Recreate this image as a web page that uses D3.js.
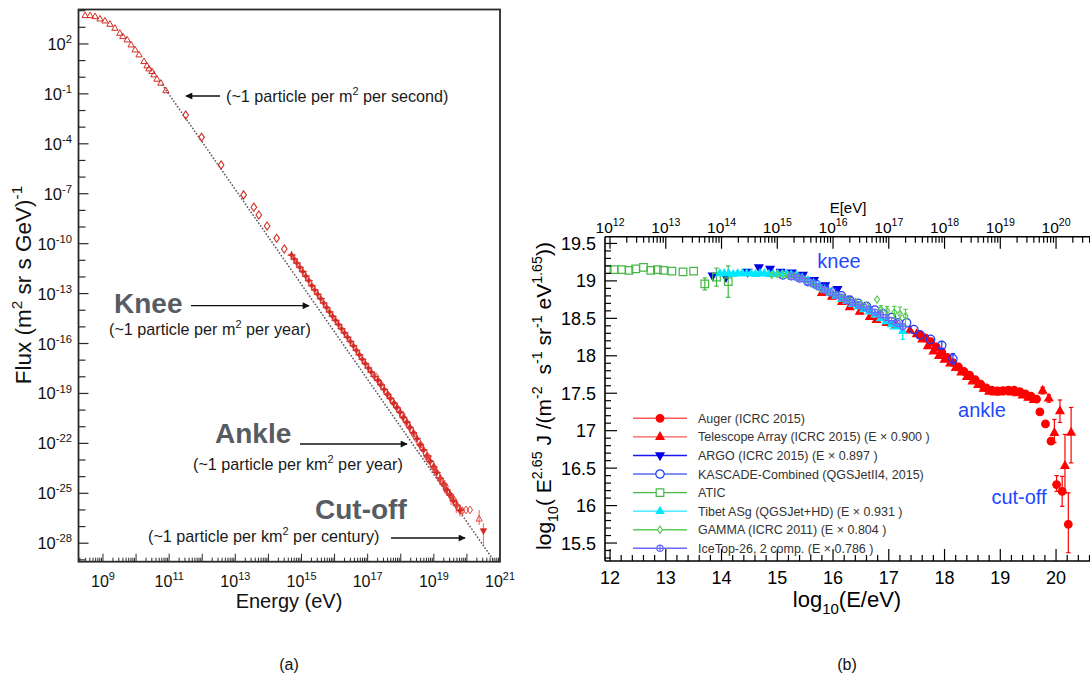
<!DOCTYPE html>
<html><head><meta charset="utf-8">
<script src="https://cdn.jsdelivr.net/npm/d3@7"></script>
<style>
body{margin:0;background:#fff}
svg{display:block;font-family:"Liberation Sans",Arial,Helvetica,sans-serif}
text{white-space:pre}
</style>
</head><body>
<svg id="c" width="1090" height="682"></svg>
<script>
// ================= data: panel (a), all-particle flux, [log10 E/eV, log10 flux] =================
const fluxLowTriangles = [[8.46,3.70],[8.61,3.70],[8.76,3.64],[8.91,3.50],[9.06,3.38],[9.21,3.18],[9.36,2.94],[9.51,2.64],[9.60,2.44],[9.73,2.24],[9.85,1.94],[9.97,1.64],[10.09,1.34],[10.24,0.94],[10.33,0.68],[10.39,0.50],[10.48,0.34],[10.54,0.14],[10.63,-0.12],[10.75,-0.36],[10.90,-0.81]];
const fluxDiamonds = [[11.50,-2.27],[11.98,-3.61],[12.57,-5.27],[13.25,-7.07],[13.56,-7.81],[13.71,-8.28],[13.96,-8.94],[14.25,-9.68],[14.48,-10.32]];
const fluxStars = [[14.70,-10.68],[14.78,-10.92],[14.86,-11.16],[14.95,-11.42],[15.04,-11.68],[15.13,-11.95],[15.22,-12.22],[15.31,-12.52],[15.40,-12.78],[15.49,-13.04],[15.58,-13.30],[15.67,-13.57],[15.76,-13.84],[15.85,-14.10],[15.94,-14.36],[16.03,-14.61],[16.12,-14.86],[16.21,-15.11],[16.30,-15.36],[16.39,-15.62],[16.48,-15.88],[16.57,-16.14],[16.66,-16.41],[16.75,-16.68],[16.84,-16.95],[16.93,-17.21],[17.02,-17.47],[17.11,-17.72],[17.20,-17.98]];
const fluxCloudDiamonds = [[17.26,-18.00],[17.36,-18.33],[17.44,-18.55],[17.55,-18.92],[17.63,-19.12],[17.74,-19.47],[17.84,-19.72],[17.93,-19.98],[18.04,-20.35],[18.13,-20.60],[18.24,-20.96],[18.33,-21.22],[18.45,-21.66],[18.55,-21.94],[18.64,-22.28],[18.75,-22.60],[18.84,-22.98],[18.95,-23.25],[19.05,-23.66],[19.14,-23.95],[19.26,-24.34],[19.36,-24.60],[19.46,-25.00],[19.55,-25.22],[19.66,-25.60],[19.76,-25.92],[19.86,-26.05],[19.97,-26.00],[20.09,-26.00]];
const fluxCloudStars = [[17.31,-18.22],[17.40,-18.48],[17.50,-18.76],[17.60,-19.05],[17.69,-19.30],[17.79,-19.58],[17.88,-19.85],[17.98,-20.12],[18.08,-20.44],[18.18,-20.72],[18.28,-21.05],[18.38,-21.36],[18.49,-21.72],[18.59,-22.08],[18.69,-22.40],[18.79,-22.75],[18.89,-23.08],[18.99,-23.42],[19.09,-23.75],[19.19,-24.10],[19.29,-24.46],[19.39,-24.80],[19.49,-25.10],[19.59,-25.45],[19.69,-25.72],[19.79,-26.02]];
const fluxCloudCircles = [[18.05,-20.30],[18.20,-20.80],[18.40,-21.45],[18.60,-22.10],[18.80,-22.80],[19.00,-23.45],[19.20,-24.18],[19.40,-24.86],[19.60,-25.40]];
const fluxCloudDown = [[18.85,-22.85],[19.02,-23.52],[19.18,-24.15],[19.33,-24.55],[19.52,-25.30],[19.68,-25.78]];
// [log10 E, low, high] vertical error bars
const fluxErrors = [[18.49,-21.80,-21.64],[18.69,-22.52,-22.28],[18.85,-23.05,-22.65],[18.89,-23.20,-22.96],[19.02,-23.80,-23.25],[19.09,-23.90,-23.60],[19.18,-24.45,-23.85],[19.29,-24.65,-24.27],[19.33,-24.95,-24.20],[19.49,-25.35,-24.85],[19.52,-25.70,-24.95],[19.59,-25.75,-25.15],[19.68,-26.20,-25.40],[19.79,-26.40,-25.70],[19.86,-26.30,-25.85]];
const fluxTailOpen = [[20.37,-26.55]];
const fluxTailOpenErr = [[20.37,-26.90,-26.00]];
const fluxTailDown = [[20.50,-27.25]];
const fluxTailDownErr = [[20.50,-28.10,-26.80]];
const fluxReferenceLine = [[10.80,-0.47],[20.84,-29.12]];
const leftYLabelExps = [2,-1,-4,-7,-10,-13,-16,-19,-22,-25,-28];
const leftXLabelExps = [9,11,13,15,17,19,21];

// ================= data: panel (b), [log10 E/eV, log10(E^2.65 J)] =================
const auger = [[17.55,18.28],[17.65,18.24],[17.75,18.19],[17.85,18.12],[17.95,18.05],[18.05,17.98],[18.15,17.91],[18.25,17.85],[18.35,17.79],[18.45,17.74],[18.55,17.68],[18.65,17.62],[18.75,17.57],[18.85,17.54],[18.95,17.53],[19.05,17.535],[19.15,17.54],[19.25,17.54],[19.35,17.52],[19.45,17.49],[19.55,17.46],[19.65,17.42],[19.71,17.25],[19.81,17.09],[19.91,16.86],[20.01,16.28],[20.11,16.19],[20.22,15.75]];
const augerErr = [[19.91,16.82,16.90],[20.01,16.19,16.40],[20.11,15.99,16.39],[20.22,15.37,16.17]];
const telescopeArray = [[15.80,18.84],[15.98,18.79],[16.16,18.72],[16.30,18.65],[16.48,18.59],[16.66,18.52],[16.78,18.48],[16.96,18.44],[17.14,18.41],[17.38,18.34],[17.50,18.29],[17.60,18.22],[17.70,18.13],[17.80,18.06],[17.90,18.00],[18.00,17.95],[18.10,17.90],[18.20,17.84],[18.30,17.78],[18.40,17.72],[18.50,17.66],[18.60,17.61],[18.70,17.56],[18.80,17.52],[18.90,17.51],[19.00,17.51],[19.10,17.52],[19.20,17.51],[19.30,17.50],[19.40,17.47],[19.50,17.44],[19.60,17.41],[19.76,17.535],[19.87,17.43],[19.97,16.97],[20.07,17.26],[20.16,16.53],[20.27,16.975]];
const telescopeArrayErr = [[19.76,17.49,17.58],[19.87,17.38,17.48],[19.97,16.84,17.15],[20.07,17.11,17.41],[20.16,16.17,16.95],[20.27,16.57,17.31]];
const argo = [[13.84,19.07],[14.08,19.05],[14.47,19.12],[14.67,19.18],[14.87,19.16],[15.06,19.12],[15.26,19.11],[15.46,19.08],[15.66,19.01],[15.86,18.94],[16.08,18.89],[16.26,18.76]];
const kascade = [[15.10,19.08],[15.25,19.07],[15.40,19.04],[15.55,18.99],[15.70,18.95],[15.85,18.90],[16.00,18.85],[16.15,18.80],[16.30,18.74],[16.45,18.70],[16.60,18.66],[16.75,18.61],[16.90,18.56],[17.05,18.51],[17.17,18.44],[17.32,18.44],[17.45,18.35],[17.56,18.28],[17.75,18.22],[17.95,18.14],[18.15,17.96]];
const kascadeErr = [[17.95,18.10,18.19],[18.15,17.89,18.03]];
const atic = [[11.95,19.15],[12.07,19.15],[12.21,19.15],[12.34,19.14],[12.46,19.16],[12.60,19.18],[12.73,19.14],[12.85,19.15],[12.96,19.14],[13.11,19.13],[13.31,19.12],[13.50,19.13],[13.70,18.96],[13.91,19.05],[14.12,18.99]];
const aticErr = [[13.70,18.88,19.04],[13.91,18.93,19.17],[14.12,18.78,19.20]];
const tibet = [[13.97,19.10],[14.05,19.10],[14.13,19.10],[14.21,19.09],[14.29,19.10],[14.37,19.10],[14.45,19.10],[14.53,19.10],[14.61,19.09],[14.69,19.10],[14.77,19.10],[14.85,19.09],[14.93,19.09],[15.01,19.09],[15.09,19.09],[15.17,19.09],[15.25,19.08],[15.35,19.07],[15.45,19.04],[15.55,19.01],[15.65,18.97],[15.75,18.93],[15.85,18.88],[15.95,18.84],[16.05,18.80],[16.15,18.76],[16.25,18.73],[16.35,18.69],[16.45,18.66],[16.55,18.62],[16.65,18.59],[16.75,18.55],[16.85,18.50],[16.95,18.46],[17.05,18.42],[17.15,18.39],[17.25,18.33]];
const tibetErr = [[17.05,18.36,18.47],[17.25,18.22,18.41]];
const gamma = [[14.90,19.08],[15.00,19.09],[15.10,19.08],[15.20,19.07],[15.30,19.06],[15.40,19.04],[15.50,19.01],[15.60,18.97],[15.70,18.93],[15.80,18.89],[15.90,18.86],[16.00,18.83],[16.10,18.80],[16.20,18.77],[16.30,18.74],[16.40,18.72],[16.50,18.69],[16.60,18.67],[16.79,18.75],[16.86,18.62],[16.97,18.60],[17.10,18.58],[17.20,18.56],[17.30,18.53]];
const gammaErr = [[16.86,18.57,18.67],[16.97,18.53,18.66],[17.10,18.50,18.66],[17.20,18.48,18.65],[17.30,18.40,18.62]];
const icetop = [[15.25,19.06],[15.35,19.05],[15.45,19.03],[15.55,18.99],[15.65,18.96],[15.75,18.92],[15.85,18.88],[15.95,18.84],[16.05,18.81],[16.15,18.78],[16.25,18.74],[16.35,18.71],[16.45,18.68],[16.55,18.65],[16.65,18.62],[16.75,18.58],[16.85,18.55],[16.95,18.51],[17.05,18.47],[17.15,18.43],[17.25,18.39]];
const legendLabels = ["Auger (ICRC 2015)","Telescope Array (ICRC 2015) (E \u00d7 0.900 )","ARGO (ICRC 2015) (E \u00d7 0.897 )","KASCADE-Combined (QGSJetII4, 2015)","ATIC","Tibet ASg (QGSJet+HD) (E \u00d7 0.931 )","GAMMA (ICRC 2011) (E \u00d7 0.804 )","IceTop-26, 2 comp. (E \u00d7 0.786 )"];
const rightXTicks = [12,13,14,15,16,17,18,19,20];
const rightYTicks = [15.5,16,16.5,17,17.5,18,18.5,19,19.5];
const topExps = [12,13,14,15,16,17,18,19,20];

// ================= drawing =================
const W = 1090, H = 682;
const svg = d3.select("#c");
svg.append("rect").attr("width", W).attr("height", H).attr("fill", "#fff");

function rich(t, parts, size) {
  let off = 0;
  parts.forEach(([s, m]) => {
    const target = m === "sup" ? -0.42 * size : m === "sub" ? 0.32 * size : 0;
    t.append("tspan").attr("dy", target - off).attr("font-size", m ? size * 0.68 : size).text(s);
    off = target;
  });
  return t;
}
function markerPath(type, s) {
  switch (type) {
    case "circle": return d3.symbol(d3.symbolCircle, Math.PI * s * s)();
    case "triUp": return `M0,${-s}L${s * 0.87},${s * 0.55}L${-s * 0.87},${s * 0.55}Z`;
    case "triDown": return `M0,${s}L${s * 0.87},${-s * 0.55}L${-s * 0.87},${-s * 0.55}Z`;
    case "square": return `M${-s},${-s}H${s}V${s}H${-s}Z`;
    case "diamond": return `M0,${-s * 1.45}L${s},0L0,${s * 1.45}L${-s},0Z`;
    case "star": return `M0,${-s * 1.3}L${s * 0.35},${-s * 0.35}L${s * 1.3},0L${s * 0.35},${s * 0.35}L0,${s * 1.3}L${-s * 0.35},${s * 0.35}L${-s * 1.3},0L${-s * 0.35},${-s * 0.35}Z`;
    case "crossCircle": return d3.symbol(d3.symbolCircle, Math.PI * s * s)() + `M${-s},0H${s}M0,${-s}V${s}`;
  }
}

const defs = svg.append("defs");
defs.append("marker").attr("id", "ah").attr("viewBox", "0 0 10 10").attr("refX", 9).attr("refY", 5)
  .attr("markerWidth", 9).attr("markerHeight", 7).attr("markerUnits", "userSpaceOnUse").attr("orient", "auto")
  .append("path").attr("d", "M0,0L10,5L0,10Z").attr("fill", "#111");

// ---------------- panel (a) ----------------
const L = { x0: 78.5, x1: 500, y0: 9.5, y1: 561.7 };
const xL = d3.scaleLog().domain([Math.pow(10, 8.26), 1e21]).range([L.x0, L.x1]);
const yL = d3.scaleLog().domain([Math.pow(10, -29.11), Math.pow(10, 4.07)]).range([L.y1, L.y0]);
const pxL = d => xL(Math.pow(10, d[0]));
const pyL = v => yL(Math.pow(10, v));

defs.append("clipPath").attr("id", "clipL").append("rect")
  .attr("x", L.x0).attr("y", L.y0).attr("width", L.x1 - L.x0).attr("height", L.y1 - L.y0);
const gA = svg.append("g");
const plotA = gA.append("g").attr("clip-path", "url(#clipL)");

// power-law reference line
plotA.append("path").datum(fluxReferenceLine)
  .attr("d", d3.line().x(pxL).y(d => pyL(d[1])))
  .attr("fill", "none").attr("stroke", "#5a5a5a").attr("stroke-width", 1.7)
  .attr("stroke-dasharray", "0.1,3.2").attr("stroke-linecap", "round");

const redDark = "#d42a24", redErr = "#ee7b78";
function errBars(g, data, px, py, color, cap) {
  data.forEach(d => {
    const x = px(d), ya = py(d[1]), yb = py(d[2]);
    g.append("line").attr("x1", x).attr("x2", x).attr("y1", ya).attr("y2", yb)
      .attr("stroke", color).attr("stroke-width", 1.2);
    if (cap) {
      [ya, yb].forEach(y => g.append("line").attr("x1", x - cap).attr("x2", x + cap).attr("y1", y).attr("y2", y)
        .attr("stroke", color).attr("stroke-width", 1.2));
    }
  });
}
function marks(g, data, px, py, type, size, fill, stroke, sw) {
  g.selectAll(null).data(data).enter().append("path")
    .attr("transform", d => `translate(${px(d)},${py(d[1])})`)
    .attr("d", markerPath(type, size))
    .attr("fill", fill).attr("stroke", stroke).attr("stroke-width", sw || 1);
}
errBars(plotA, fluxErrors, pxL, pyL, redErr, 0);
errBars(plotA, fluxTailOpenErr, pxL, pyL, redErr, 0);
errBars(plotA, fluxTailDownErr, pxL, pyL, redErr, 0);
marks(plotA, fluxLowTriangles, pxL, pyL, "triUp", 3.6, "none", redDark, 1);
marks(plotA, fluxDiamonds, pxL, pyL, "diamond", 2.8, "none", redDark, 1.1);
marks(plotA, fluxStars, pxL, pyL, "star", 3, redDark, redDark, 0.7);
marks(plotA, fluxCloudDiamonds, pxL, pyL, "diamond", 2.7, "none", "#e0443e", 1);
marks(plotA, fluxCloudCircles, pxL, pyL, "circle", 2.7, "none", "#e0443e", 1);
marks(plotA, fluxCloudStars, pxL, pyL, "star", 3, redDark, redDark, 0.7);
marks(plotA, fluxCloudDown, pxL, pyL, "triDown", 3.1, "#e0443e", "#e0443e", 0.8);
marks(plotA, fluxTailOpen, pxL, pyL, "triUp", 3.6, "none", "#e0443e", 1);
marks(plotA, fluxTailDown, pxL, pyL, "triDown", 3.6, redDark, redDark, 0.8);

// frame
gA.append("rect").attr("x", L.x0).attr("y", L.y0).attr("width", L.x1 - L.x0).attr("height", L.y1 - L.y0)
  .attr("fill", "none").attr("stroke", "#2a2a2a").attr("stroke-width", 1.8);

// y ticks (every decade)
d3.range(-29, 5).forEach(e => {
  const y = yL(Math.pow(10, e));
  const major = leftYLabelExps.includes(e);
  gA.append("line").attr("x1", L.x0).attr("x2", L.x0 + (major ? 10 : 7)).attr("y1", y).attr("y2", y)
    .attr("stroke", "#2a2a2a").attr("stroke-width", 1.2);
});
leftYLabelExps.forEach(e => {
  const t = gA.append("text").attr("x", 72).attr("y", yL(Math.pow(10, e)) + 6).attr("text-anchor", "end").attr("fill", "#111");
  rich(t, [["10", ""], [String(e), "sup"]], 16.5);
});
// x ticks (decades + 2..9 subdivisions)
d3.range(8, 21).forEach(e => {
  d3.range(1, 10).forEach(k => {
    const v = k * Math.pow(10, e);
    const x = xL(v);
    if (x < L.x0 || x > L.x1) return;
    gA.append("line").attr("x1", x).attr("x2", x).attr("y1", L.y1).attr("y2", L.y1 - (k === 1 ? 8 : 4))
      .attr("stroke", "#2a2a2a").attr("stroke-width", 1);
  });
});
leftXLabelExps.forEach(e => {
  const t = gA.append("text").attr("x", xL(Math.pow(10, e))).attr("y", 587).attr("text-anchor", "middle").attr("fill", "#111");
  rich(t, [["10", ""], [String(e), "sup"]], 16);
});
// axis titles
rich(gA.append("text").attr("x", 289).attr("y", 608).attr("text-anchor", "middle").attr("fill", "#111"),
  [["Energy (eV)", ""]], 20);
rich(gA.append("text").attr("transform", "translate(31,285) rotate(-90)").attr("text-anchor", "middle").attr("fill", "#111"),
  [["Flux (m", ""], ["2", "sup"], [" sr s GeV)", ""], ["-1", "sup"]], 22.5);

// annotations
function note(x, y, parts, size) {
  return rich(gA.append("text").attr("x", x).attr("y", y).attr("fill", "#1a1a1a"), parts, size || 16.2);
}
function arrow(x1, y1, x2, y2) {
  gA.append("line").attr("x1", x1).attr("y1", y1).attr("x2", x2).attr("y2", y2)
    .attr("stroke", "#111").attr("stroke-width", 1.3).attr("marker-end", "url(#ah)");
}
function big(x, y, s) {
  gA.append("text").attr("x", x).attr("y", y).attr("font-size", 28).attr("font-weight", "bold")
    .attr("fill", "#575c63").text(s);
}
note(226, 102, [["(~1 particle per m", ""], ["2", "sup"], [" per second)", ""]]);
arrow(220, 96, 186, 96);
big(114, 313, "Knee");
arrow(191, 305.7, 309, 305.7);
note(109, 335, [["(~1 particle per m", ""], ["2", "sup"], [" per year)", ""]]);
big(215, 443, "Ankle");
arrow(300, 444, 407, 444);
note(193, 470, [["(~1 particle per km", ""], ["2", "sup"], [" per year)", ""]]);
big(315, 519, "Cut-off");
note(148, 542, [["(~1 particle per km", ""], ["2", "sup"], [" per century)", ""]]);
arrow(391, 538, 465, 538);

svg.append("text").attr("x", 289).attr("y", 670).attr("text-anchor", "middle").attr("font-size", 16).attr("fill", "#111").text("(a)");

// ---------------- panel (b) ----------------
const R = { x0: 605, x1: 1090, y0: 236.7, y1: 561 };
const xR = d3.scaleLinear().domain([11.91, 20.6]).range([R.x0, 1089.5]);
const yR = d3.scaleLinear().domain([15.26, 19.59]).range([R.y1, R.y0]);
const pxR = d => xR(d[0]);
const pyR = v => yR(v);
const gB = svg.append("g");
defs.append("clipPath").attr("id", "clipR").append("rect")
  .attr("x", R.x0).attr("y", R.y0).attr("width", R.x1 - R.x0).attr("height", R.y1 - R.y0);
const plotB = gB.append("g").attr("clip-path", "url(#clipR)");

const series = [
  { name: legendLabels[0], data: auger, err: augerErr, type: "circle", size: 3.8, color: "#ff0000", fill: true, line: "#ff5a5a" },
  { name: legendLabels[1], data: telescopeArray, err: telescopeArrayErr, type: "triUp", size: 4.6, color: "#ff0000", fill: true, line: "#ff5a5a" },
  { name: legendLabels[2], data: argo, err: [], type: "triDown", size: 4.6, color: "#0000e6", fill: true, line: "#1a1aee" },
  { name: legendLabels[3], data: kascade, err: kascadeErr, type: "circle", size: 4.2, color: "#1a3cff", fill: false, line: "#5a6cf0" },
  { name: legendLabels[4], data: atic, err: aticErr, type: "square", size: 3.8, color: "#45b845", fill: false, line: "#45b845" },
  { name: legendLabels[5], data: tibet, err: tibetErr, type: "triUp", size: 4.2, color: "#00e8ff", fill: true, line: "#22e8ff" },
  { name: legendLabels[6], data: gamma, err: gammaErr, type: "diamond", size: 2.5, color: "#5ccc5c", fill: false, line: "#5ccc5c" },
  { name: legendLabels[7], data: icetop, err: [], type: "crossCircle", size: 3.2, color: "#6a6aff", fill: false, line: "#6a6aff" }
];
series.forEach(s => {
  errBars(plotB, s.err, pxR, pyR, s.color, 2.2);
  marks(plotB, s.data, pxR, pyR, s.type, s.size, s.fill ? s.color : "none", s.color, 1.2);
});

// axes lines
const axisColor = "#000";
gB.append("line").attr("x1", R.x0).attr("x2", R.x0).attr("y1", R.y0).attr("y2", R.y1).attr("stroke", axisColor).attr("stroke-width", 1.6);
gB.append("line").attr("x1", R.x0).attr("x2", R.x1).attr("y1", R.y1).attr("y2", R.y1).attr("stroke", axisColor).attr("stroke-width", 1.6);
gB.append("line").attr("x1", R.x0).attr("x2", R.x1).attr("y1", R.y0).attr("y2", R.y0).attr("stroke", axisColor).attr("stroke-width", 1.6);

// left y ticks
d3.range(15.3, 19.6, 0.1).forEach(v => {
  const y = yR(v);
  if (y < R.y0 || y > R.y1) return;
  const major = Math.abs(v * 2 - Math.round(v * 2)) < 1e-6;
  gB.append("line").attr("x1", R.x0).attr("x2", R.x0 + (major ? 12 : 6)).attr("y1", y).attr("y2", y).attr("stroke", axisColor).attr("stroke-width", 1.2);
});
rightYTicks.forEach(v => {
  gB.append("text").attr("x", 596).attr("y", yR(v)).attr("dy", "0.36em").attr("text-anchor", "end")
    .attr("font-size", 18).attr("fill", "#000").text(v);
});
// bottom ticks
d3.range(12, 20.61, 0.2).forEach(v => {
  const x = xR(v);
  const major = Math.abs(v - Math.round(v)) < 1e-6;
  gB.append("line").attr("x1", x).attr("x2", x).attr("y1", R.y1).attr("y2", R.y1 - (major ? 12 : 6)).attr("stroke", axisColor).attr("stroke-width", 1.2);
});
rightXTicks.forEach(v => {
  gB.append("text").attr("x", xR(v)).attr("y", 584).attr("text-anchor", "middle")
    .attr("font-size", 18).attr("fill", "#000").text(v);
});
// top energy axis (log)
d3.range(12, 21).forEach(e => {
  d3.range(1, 10).forEach(k => {
    const x = xR(e + Math.log10(k));
    if (x > R.x1) return;
    gB.append("line").attr("x1", x).attr("x2", x).attr("y1", R.y0).attr("y2", R.y0 + (k === 1 ? 12 : 6)).attr("stroke", axisColor).attr("stroke-width", 1.2);
  });
});
topExps.forEach(e => {
  rich(gB.append("text").attr("x", xR(e)).attr("y", 233).attr("text-anchor", "middle").attr("fill", "#000"),
    [["10", ""], [String(e), "sup"]], 15.5);
});
gB.append("text").attr("x", 848).attr("y", 213).attr("text-anchor", "middle").attr("font-size", 15).attr("fill", "#000").text("E[eV]");

// axis titles
rich(gB.append("text").attr("x", 847).attr("y", 607).attr("text-anchor", "middle").attr("fill", "#000"),
  [["log", ""], ["10", "sub"], ["(E/eV)", ""]], 22);
rich(gB.append("text").attr("transform", "translate(551,396) rotate(-90)").attr("text-anchor", "middle").attr("fill", "#000"),
  [["log", ""], ["10", "sub"], ["( E", ""], ["2.65", "sup"], [" J /(m", ""], ["-2", "sup"], ["  s", ""], ["-1", "sup"], [" sr", ""], ["-1", "sup"], [" eV", ""], ["1.65", "sup"], ["))", ""]], 21);

// feature labels
const blue = "#2148ff";
[["knee", 839, 268], ["ankle", 982, 417], ["cut-off", 1019, 504]].forEach(([s, x, y]) => {
  gB.append("text").attr("x", x).attr("y", y).attr("text-anchor", "middle").attr("font-size", 20).attr("fill", blue).text(s);
});

// legend
const legend = gB.append("g");
series.forEach((s, i) => {
  const y = 418.3 + i * 18.57;
  legend.append("line").attr("x1", 633).attr("x2", 687).attr("y1", y).attr("y2", y).attr("stroke", s.line).attr("stroke-width", 1.4);
  legend.append("path").attr("transform", `translate(660,${y})`).attr("d", markerPath(s.type, s.size))
    .attr("fill", s.fill ? s.color : "#fff").attr("stroke", s.color).attr("stroke-width", 1.2);
  legend.append("text").attr("x", 698).attr("y", y).attr("dy", "0.36em").attr("font-size", 12.5).attr("fill", "#333").text(s.name);
});

svg.append("text").attr("x", 847).attr("y", 670).attr("text-anchor", "middle").attr("font-size", 16).attr("fill", "#111").text("(b)");
</script>
</body></html>
